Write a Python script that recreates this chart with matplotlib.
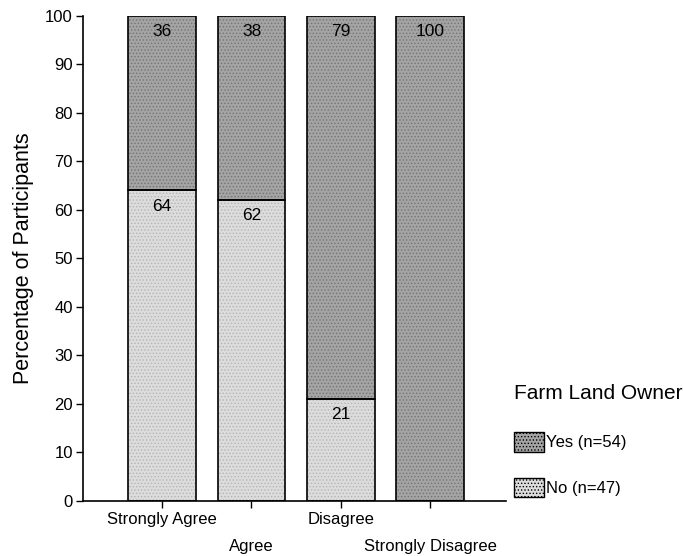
import numpy as np
import matplotlib.pyplot as plt
from matplotlib.patches import Patch

plt.rcParams['font.family'] = ['Liberation Sans', 'DejaVu Sans']
plt.rcParams['hatch.linewidth'] = 0.6

categories = ['Strongly Agree', 'Agree', 'Disagree', 'Strongly Disagree']
no_pct = [64, 62, 21, 0]
yes_pct = [36, 38, 79, 100]
legend_labels = ['Yes (n=54)', 'No (n=47)']

yes_color = '#a4a4a4'
no_color = '#dcdcdc'

x = np.arange(len(categories))
width = 0.76

fig = plt.figure(figsize=(6.83, 5.56), dpi=100)
ax = fig.add_axes([0.121, 0.0995, 0.62, 0.8725])

# textured fill first, then black outlines on top
ax.bar(x, no_pct, width, color=no_color, hatch='.....', edgecolor='#b4b4b4', linewidth=0)
ax.bar(x, yes_pct, width, bottom=no_pct, color=yes_color, hatch='.....',
       edgecolor='#747474', linewidth=0)
ax.bar(x, no_pct, width, fill=False, edgecolor='black', linewidth=1.2)
ax.bar(x, yes_pct, width, bottom=no_pct, fill=False, edgecolor='black', linewidth=1.2)

for i in range(len(categories)):
    if no_pct[i] > 0:
        ax.annotate(str(no_pct[i]), (x[i], no_pct[i]), xytext=(0, -11.5),
                    textcoords='offset points', ha='center', va='center', fontsize=12.5)
    ax.annotate(str(yes_pct[i]), (x[i], no_pct[i] + yes_pct[i]), xytext=(0, -11.5),
                textcoords='offset points', ha='center', va='center', fontsize=12.5)

ax.set_xlim(-0.89, 3.85)
ax.set_ylim(0, 100)
ax.set_yticks(range(0, 101, 10))
ax.set_xticks(x)
# staggered category labels: odd ones go on a second row
ax.set_xticklabels([c if i % 2 == 0 else '' for i, c in enumerate(categories)])
for i, c in enumerate(categories):
    if i % 2 == 1:
        ax.annotate(c, (x[i], 0), xycoords=('data', 'axes fraction'), xytext=(0, -33),
                    textcoords='offset points', ha='center', va='center', fontsize=12)
ax.tick_params(axis='both', labelsize=12, length=5, width=1, direction='out', color='black')
ax.tick_params(axis='y', pad=2)
ax.tick_params(axis='x', pad=3)

for s in ['top', 'right']:
    ax.spines[s].set_visible(False)
for s in ['left', 'bottom']:
    ax.spines[s].set_linewidth(1.2)

ax.set_ylabel('Percentage of Participants', fontsize=15.5, labelpad=8)

handles = [Patch(facecolor=yes_color, edgecolor='black', hatch='.....'),
           Patch(facecolor=no_color, edgecolor='black', hatch='.....')]
leg = fig.legend(handles, legend_labels, title='Farm Land Owner', loc='upper left',
                 bbox_to_anchor=(0.752, 0.31), frameon=False, fontsize=12,
                 title_fontsize=15, handlelength=1.85, handleheight=1.45,
                 handletextpad=0.1, labelspacing=1.56, borderpad=0, borderaxespad=0,
                 alignment='left')
leg._legend_box.sep = 21

fig.savefig('out.png', dpi=100)
